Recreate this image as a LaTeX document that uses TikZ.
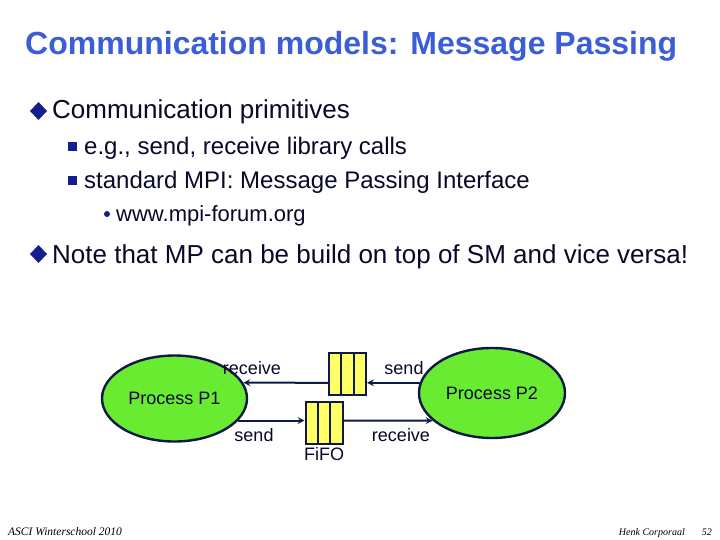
\documentclass[tikz,border=0pt]{standalone}
\usepackage{fontspec}
\setmainfont{Liberation Sans}
\newfontfamily\footfont{Liberation Serif}
\usetikzlibrary{positioning,calc,shapes.geometric}

\definecolor{titleblue}{RGB}{59,94,214}
\definecolor{txtnavy}{RGB}{8,8,40}
\definecolor{bnavy}{RGB}{20,30,140}
\definecolor{lnavy}{RGB}{15,25,70}
\definecolor{procgreen}{RGB}{105,235,50}
\definecolor{fifoyellow}{RGB}{255,255,102}

\tikzset{
  proc/.style={ellipse, draw=lnavy, line width=2.4pt, fill=procgreen, inner sep=0pt},
  fifo/.style={draw=lnavy, line width=2pt, fill=fifoyellow, minimum width=37pt,
    minimum height=42pt, inner sep=0pt,
    path picture={
      \draw[lnavy, line width=2pt]
        ($(path picture bounding box.north west)!1/3!(path picture bounding box.north east)$) --
        ($(path picture bounding box.south west)!1/3!(path picture bounding box.south east)$)
        ($(path picture bounding box.north west)!2/3!(path picture bounding box.north east)$) --
        ($(path picture bounding box.south west)!2/3!(path picture bounding box.south east)$);
    }},
  arr/.style={->, draw=lnavy, line width=2pt},
  item/.style={anchor=base west}
}

\begin{document}
\begin{tikzpicture}[x=1pt, y=-1pt, >=stealth, every node/.style={font=\fontsize{18}{20}\selectfont, text=txtnavy, inner sep=0pt}]

  % --- 0. 描画範囲 (720 x 540) ---
  \useasboundingbox (0,0) rectangle (720,540);

  % --- 1. タイトル ---
  \node[item, font=\fontsize{32}{36}\selectfont\bfseries, text=titleblue] (title) at (25,55)
    {Communication models: Message Passing};

  % --- 2. 箇条書き ---
  % 第1レベル
  \fill[bnavy] (38.5,102) -- (47,111) -- (38.5,120) -- (30,111) -- cycle;
  \node[item, font=\fontsize{26}{30}\selectfont] (prim) at (52,119) {Communication primitives};

  % 第2レベル
  \fill[bnavy] (68,142) rectangle (77,151);
  \node[item, font=\fontsize{24}{28}\selectfont] (calls) at (84,154.5) {e.g., send, receive library calls};
  \fill[bnavy] (68,176) rectangle (77,185);
  \node[item, font=\fontsize{24}{28}\selectfont] (mpi) at (84,188.5) {standard MPI: Message Passing Interface};

  % 第3レベル
  \fill[bnavy] (107,214) circle (3pt);
  \node[item, font=\fontsize{22}{26}\selectfont] (forum) at (116,222) {www.mpi-forum.org};

  % 第1レベル
  \fill[bnavy] (38.5,245) -- (47,254) -- (38.5,263) -- (30,254) -- cycle;
  \node[item, font=\fontsize{26}{30}\selectfont] (note) at (52,263)
    {Note that MP can be build on top of SM and vice versa!};

  % --- 3. プロセスと FIFO ---
  \node[proc, minimum width=145, minimum height=86] (p1) at (174.5,398.5) {Process P1};
  \node[proc, minimum width=146, minimum height=90] (p2) at (492,393) {Process P2};

  \node[fifo] (q1) at (347.5,374) {};
  \node[fifo] (q2) at (324,422.5) {};
  \node[below=3pt of q2] (fifo) {FiFO};

  % --- 4. メッセージの流れ ---
  % P2 -> P1 (上側)
  \draw[arr] (p2.172) -- (p2.172 -| q1.east);
  \draw[arr] (q1.west |- p2.172) -- (p1.13);
  % P1 -> P2 (下側)
  \draw[arr] (p1.-19) -- (p1.-19 -| q2.west);
  \draw[arr] (q2.east |- p1.-19) -- (p2.205);

  % 矢印ラベル
  \node (rcv1) at (252,368) {receive};
  \node (snd2) at (404,368) {send};
  \node (snd1) at (254,435) {send};
  \node (rcv2) at (401,435) {receive};

  % --- 5. フッター ---
  \node[item, font=\footfont\itshape\fontsize{11.5}{13}\selectfont, text=black] (event) at (8,535)
    {ASCI Winterschool 2010};
  \node[anchor=base east, font=\footfont\itshape\fontsize{10}{12}\selectfont, text=black] (author) at (685,535)
    {Henk Corporaal};
  \node[anchor=base east, font=\footfont\itshape\fontsize{10}{12}\selectfont, text=black] (page) at (712,535)
    {52};

\end{tikzpicture}
\end{document}
